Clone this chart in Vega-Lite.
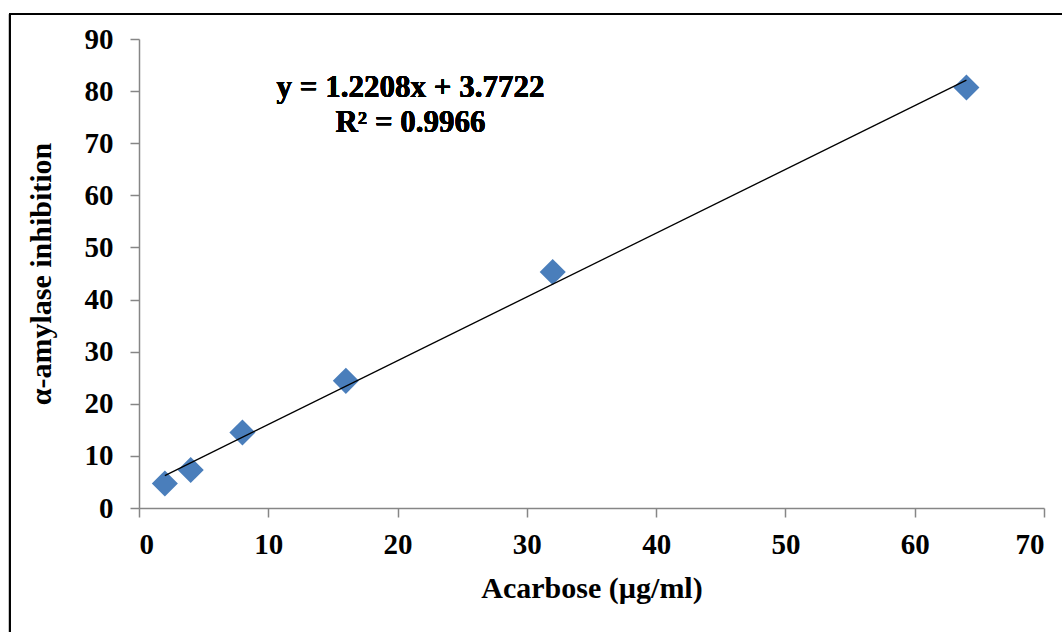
{
  "$schema": "https://vega.github.io/schema/vega-lite/v6.json",
  "width": 905,
  "height": 469,
  "autosize": {"type": "none"},
  "padding": {"left": 139, "top": 39, "right": 18, "bottom": 124},
  "background": "white",
  "config": {
    "view": {"stroke": null},
    "font": "Liberation Serif",
    "axis": {
      "labelFont": "Liberation Serif",
      "labelFontWeight": "bold",
      "labelFontSize": 29,
      "labelColor": "black",
      "titleFont": "Liberation Serif",
      "titleFontWeight": "bold",
      "titleFontSize": 30,
      "titleColor": "black",
      "domainColor": "#868686",
      "domainWidth": 1.5,
      "tickColor": "#868686",
      "tickWidth": 1.5,
      "tickSize": 9,
      "grid": false
    }
  },
  "data": {
    "values": [
      {"conc": 2, "inhib": 4.7},
      {"conc": 4, "inhib": 7.3},
      {"conc": 8, "inhib": 14.5},
      {"conc": 16, "inhib": 24.4},
      {"conc": 32, "inhib": 45.3},
      {"conc": 64, "inhib": 80.7}
    ]
  },
  "layer": [
    {
      "mark": {"type": "rect", "fill": null, "stroke": "black", "strokeWidth": 1.5},
      "encoding": {
        "x": {"datum": -10},
        "x2": {"datum": 75},
        "y": {"datum": 94.75},
        "y2": {"datum": -30}
      }
    },
    {
      "mark": {"type": "point", "shape": "diamond", "filled": true, "size": 680, "color": "#4A7EBB", "opacity": 1},
      "encoding": {
        "x": {
          "field": "conc", "type": "quantitative",
          "scale": {"domain": [0, 70], "nice": false},
          "axis": {"values": [0, 10, 20, 30, 40, 50, 60, 70], "title": "Acarbose (µg/ml)", "labelPadding": 13, "titlePadding": 14}
        },
        "y": {
          "field": "inhib", "type": "quantitative",
          "scale": {"domain": [0, 90], "nice": false},
          "axis": {"values": [0, 10, 20, 30, 40, 50, 60, 70, 80, 90], "title": "α-amylase inhibition", "labelPadding": 17, "titlePadding": 28}
        }
      }
    },
    {
      "transform": [{"regression": "inhib", "on": "conc"}],
      "mark": {"type": "line", "color": "black", "strokeWidth": 1.3},
      "encoding": {
        "x": {"field": "conc", "type": "quantitative"},
        "y": {"field": "inhib", "type": "quantitative"}
      }
    },
    {
      "mark": {"type": "text", "font": "Liberation Serif", "fontWeight": "bold", "fontSize": 31, "color": "black", "align": "center", "baseline": "middle"},
      "encoding": {
        "x": {"datum": 21},
        "y": {"datum": 80.6},
        "text": {"value": "y = 1.2208x + 3.7722"}
      }
    },
    {
      "mark": {"type": "text", "font": "Liberation Serif", "fontWeight": "bold", "fontSize": 31, "color": "black", "align": "center", "baseline": "middle"},
      "encoding": {
        "x": {"datum": 21},
        "y": {"datum": 73.9},
        "text": {"value": "R² = 0.9966"}
      }
    }
  ]
}
